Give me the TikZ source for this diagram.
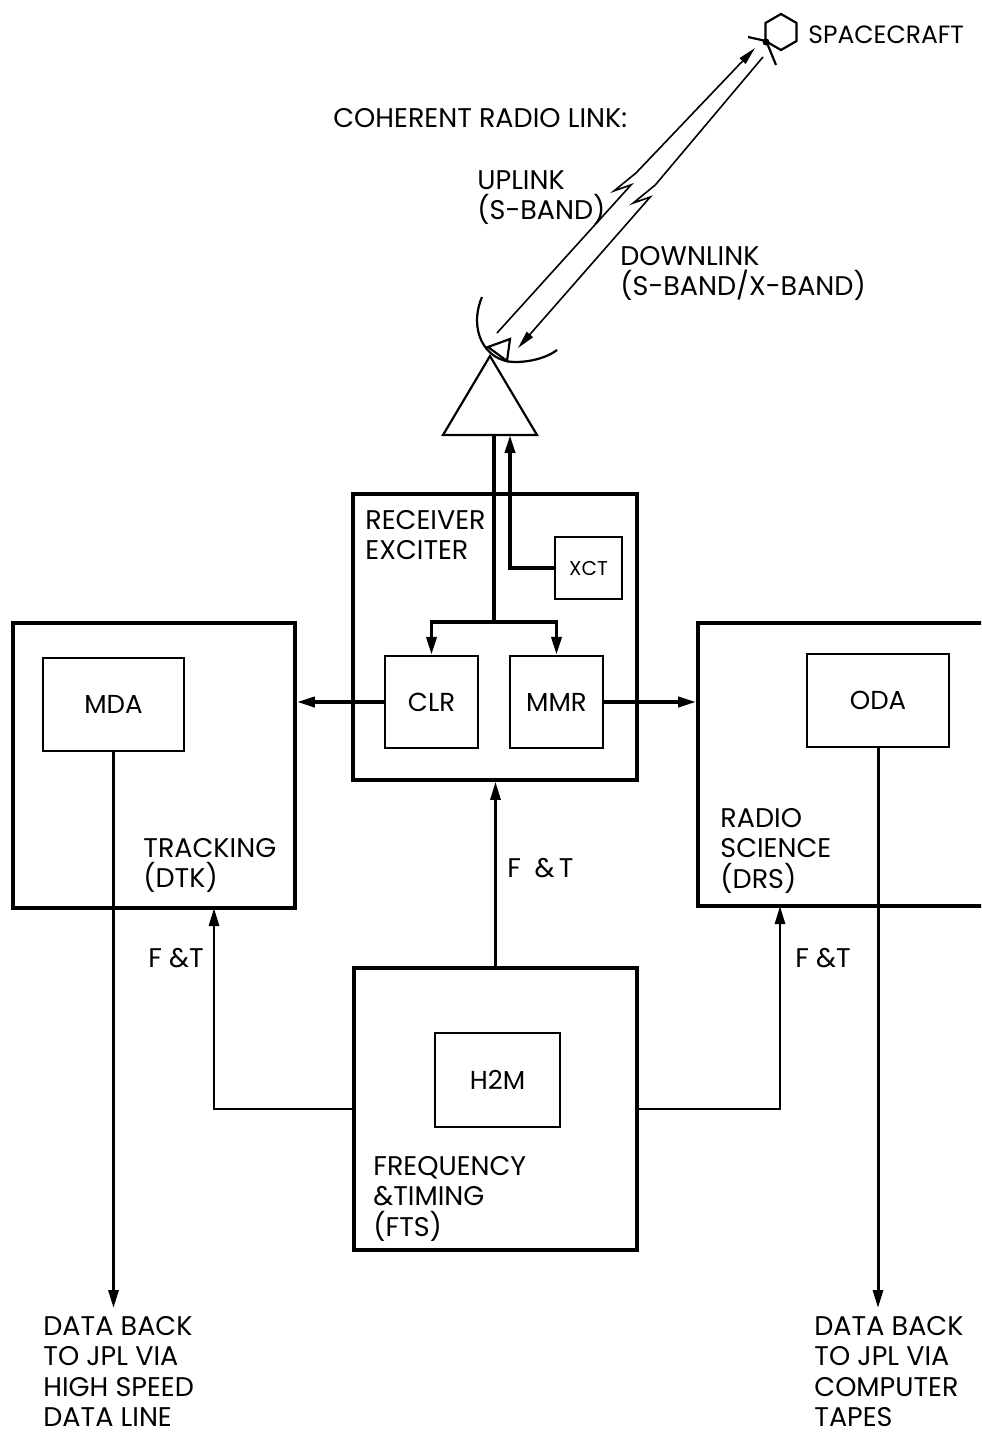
\documentclass[tikz,border=0pt]{standalone}
\usepackage{fontspec}
\setmainfont{Poppins}
\usetikzlibrary{arrows.meta,calc,positioning,shapes.geometric}

\tikzset{
  unit/.style={draw, line width=1.8pt, inner sep=0pt},
  subunit/.style={draw, line width=1.1pt, inner sep=0pt, font=\fontsize{13}{15}\selectfont},
  caption/.style={inner sep=0pt, anchor=north west, align=left, font=\fontsize{13.5}{15.2}\selectfont},
  feed/.style={line width=1.8pt, -{Triangle[length=9pt,width=5pt]}},
  link/.style={line width=0.8pt, -{Triangle[length=9pt,width=4pt]}}
}

\begin{document}
\begin{tikzpicture}[x=0.5pt, y=-0.5pt]
\clip (0,0) rectangle (981,1435);

% spacecraft and radio link
\node[draw, line width=1.1pt, regular polygon, regular polygon sides=6, rotate=30, minimum size=18pt, inner sep=0pt] (craft) at (781,32) {};
\draw[line width=1.1pt] (748,37) -- (766,41);
\draw[line width=1.1pt] (767,43) -- (776,65);
\fill (766,42) circle (3.5);
\node[caption] (craftlabel) at (808,25) {\fontsize{12.5}{15}\selectfont SPACECRAFT};
\node[caption] (linklabel) at (333,108) {COHERENT RADIO LINK:};
\node[caption] (uplabel) at (477,170) {UPLINK\\(S-BAND)};
\node[caption] (downlabel) at (620,246) {DOWNLINK\\(S-BAND/X-BAND)};

\coordinate (upfrom) at (497,333);
\coordinate (upto) at (755,48);
\coordinate (downfrom) at (763,57);
\coordinate (downto) at (518,348);
\draw[link] (upfrom) -- ($(upfrom)!0.52!(upto)$) -- ++(-17,6) -- ($(upfrom)!0.52!(upto)+(5,-12)$) -- (upto);
\draw[link] (downfrom) -- ($(downfrom)!0.44!(downto)$) -- ++(-22,18) -- ($(downfrom)!0.44!(downto)+(-5,12)$) -- (downto);

% antenna
\coordinate (apex) at (490,356);
\coordinate (baseL) at (443,435);
\coordinate (baseR) at (537,435);
\draw[line width=1.1pt] (apex) -- (baseL) -- (baseR) -- cycle;
\draw[line width=1.1pt] (488,347) -- (510,339) -- (507,361) -- cycle;
\draw[line width=1.1pt] (482,297) .. controls (468,330) and (485,362) .. (515,362) .. controls (532,362) and (548,357) .. (557,350);
\coordinate (rxin) at (494,435);
\coordinate (txout) at (510,435);

% receiver / exciter
\node[unit, minimum width=142pt, minimum height=143pt] (rcv) at (495,637) {};
\node[caption] (rcvlabel) at (365,510) {RECEIVER\\EXCITER};
\node[subunit, minimum width=33.5pt, minimum height=31pt, font=\fontsize{10}{12}\selectfont] (xct) at (588.5,568) {XCT};
\node[subunit, minimum width=46.5pt, minimum height=46pt] (clr) at (431.5,702) {CLR};
\node[subunit, minimum width=46.5pt, minimum height=46pt] (mmr) at (556.5,702) {MMR};

% tracking
\node[unit, minimum width=141pt, minimum height=142.5pt] (dtk) at (154,765.5) {};
\node[subunit, minimum width=70.5pt, minimum height=46.5pt] (mda) at (113.5,704.5) {MDA};
\node[caption] (dtklabel) at (143,838) {TRACKING\\(DTK)};

% radio science
\node[unit, minimum width=151pt, minimum height=141.5pt] (drs) at (849,764.5) {};
\node[subunit, minimum width=71pt, minimum height=46.5pt] (oda) at (878,700.5) {ODA};
\node[caption] (drslabel) at (720,808) {RADIO\\SCIENCE\\(DRS)};

% frequency and timing
\node[unit, minimum width=141.5pt, minimum height=141pt] (fts) at (495.5,1109) {};
\node[subunit, minimum width=62.5pt, minimum height=47pt] (h2m) at (497.5,1080) {H2M};
\node[caption] (ftslabel) at (373,1156) {FREQUENCY\\\&TIMING\\(FTS)};

% data out
\node[caption] (hsdl) at (43,1316) {DATA BACK\\TO JPL VIA\\HIGH SPEED\\DATA LINE};
\node[caption] (tapes) at (814,1316) {DATA BACK\\TO JPL VIA\\COMPUTER\\TAPES};

% signal paths
\coordinate (split) at (494,622);
\draw[line width=1.8pt] (rxin) -- (split);
\draw[feed] (split) -| (clr.north);
\draw[feed] (split) -| (mmr.north);
\draw[feed] (xct.west) -| (txout);
\draw[feed] (clr.west) -- (clr.west -| dtk.east);
\draw[feed] (mmr.east) -- (mmr.east -| drs.west);

% F & T distribution
\coordinate (dtkin) at (214,908);
\coordinate (drsin) at (780,906);
\draw[feed, line width=1.4pt] (fts.north) -- (fts.north |- rcv.south);
\draw[feed, line width=1.4pt] (fts.west) -| (dtkin);
\draw[feed, line width=1.4pt] (fts.east) -| (drsin);
\node[caption] (ftup) at (507,858) {F\enspace\&\,T};
\node[caption] (ftleft) at (148,948) {F \&T};
\node[caption] (ftright) at (795,948) {F \&T};

\draw[feed, line width=1.5pt, shorten >=4pt] (mda.south) -- (mda.south |- hsdl.north);
\draw[feed, line width=1.5pt, shorten >=4pt] (oda.south) -- (oda.south |- tapes.north);
\end{tikzpicture}
\end{document}
